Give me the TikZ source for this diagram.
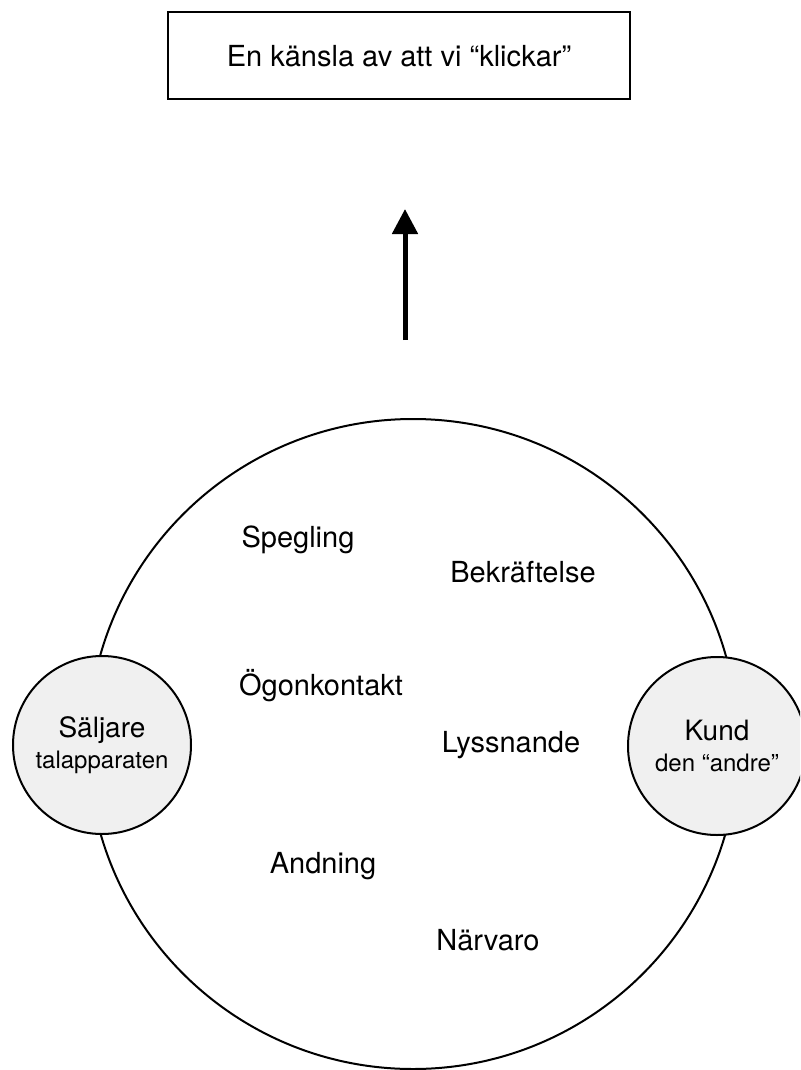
\documentclass[tikz,border=0pt]{standalone}
\usepackage{fontspec}
\setmainfont{TeX Gyre Heros}
\usetikzlibrary{arrows.meta}
\definecolor{discgray}{HTML}{F0F0F0}
\newcommand{\subline}{\fontsize{24}{31}\selectfont}

\begin{document}
\begin{tikzpicture}[x=1pt, y=-1pt, line width=2pt,
    word/.style={font=\fontsize{29}{34}\selectfont},
    party/.style={circle, draw, fill=discgray, minimum size=178pt, inner sep=0pt,
                  align=center, font=\fontsize{28}{31}\selectfont}]
    \useasboundingbox[clip] (0,0) rectangle (800,1070);
    % result box at the top
    \node[draw, minimum width=462pt, minimum height=87pt, word] (click) at (399,56)
        {En känsla av att vi “klickar”};
    % arrow pointing up to the box
    \coordinate (arrowbase) at (405,340);
    \coordinate (arrowtip) at (405,209);
    \draw[line width=5pt, -{Triangle[length=25pt, width=25pt]}] (arrowbase) -- (arrowtip);
    % the big ring
    \node[circle, draw, minimum size=650pt, inner sep=0pt] (ring) at (413,744) {};
    % the two parties on the ring
    \node[party] (seller) at (102,745) {Säljare\\{\subline talapparaten}};
    \node[party] (customer) at (717,746) {Kund\\{\subline den “andre”}};
    % words inside the ring
    \node[word] (mirror) at (298,540) {Spegling};
    \node[word] (confirm) at (523,572) {Bekräftelse};
    \node[word] (eyes) at (321,686) {Ögonkontakt};
    \node[word] (listen) at (511,745) {Lyssnande};
    \node[word] (breath) at (323,866) {Andning};
    \node[word] (present) at (488,940) {Närvaro};
\end{tikzpicture}
\end{document}
